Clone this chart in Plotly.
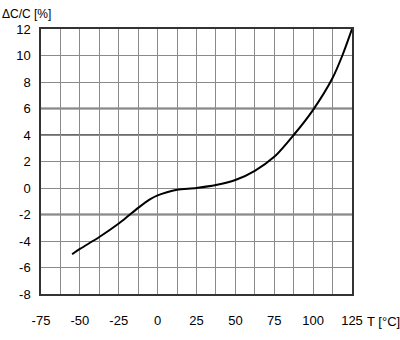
import plotly.graph_objects as go

# Temperature (°C) and capacitance change (%)
temperature = [-55, -50, -37.5, -25, -18.8, -12.5, -5, 0, 6, 12.5, 25, 37.5, 50,
               62.5, 75, 87.5, 100, 112.5, 118.8, 125]
delta_c = [-5.0, -4.6, -3.7, -2.68, -2.1, -1.5, -0.86, -0.56, -0.32, -0.14, 0.0, 0.22, 0.6,
           1.3, 2.35, 4.0, 5.9, 8.3, 10.0, 12.0]

x_ticks = [-75, -50, -25, 0, 25, 50, 75, 100, 125]
y_ticks = [-8, -6, -4, -2, 0, 2, 4, 6, 8, 10, 12]
emphasized_grid = [6, 4, -2]

FONT = "Liberation Sans, Arial, sans-serif"

fig = go.Figure()
fig.add_trace(go.Scatter(x=temperature, y=delta_c, mode="lines",
                         line=dict(color="black", width=2, shape="spline", smoothing=0.8),
                         hoverinfo="skip", showlegend=False))

shapes = [dict(type="line", xref="paper", x0=0, x1=1, yref="y", y0=v, y1=v,
               line=dict(color="#6a6a6a", width=2), layer="below") for v in emphasized_grid]

fig.update_layout(
    width=400, height=340,
    margin=dict(l=41, r=48, t=29, b=41),
    paper_bgcolor="white", plot_bgcolor="white",
    font=dict(family=FONT, size=13, color="black"),
    shapes=shapes,
    xaxis=dict(range=[-75, 125], tickvals=x_ticks, ticktext=[str(t) for t in x_ticks],
               showgrid=True, gridcolor="#8a8a8a", gridwidth=1,
               minor=dict(dtick=12.5, tick0=-75, showgrid=True, gridcolor="#8a8a8a", gridwidth=1),
               zeroline=False, showline=True, linecolor="#333", linewidth=1.5, mirror=True,
               ticks="", ticklabelstandoff=14, fixedrange=True),
    yaxis=dict(range=[-8, 12], tickvals=y_ticks, ticktext=[str(t) for t in y_ticks],
               showgrid=True, gridcolor="#8a8a8a", gridwidth=1,
               zeroline=False, showline=True, linecolor="#333", linewidth=1.5, mirror=True,
               ticks="", ticklabelstandoff=6, fixedrange=True),
    annotations=[
        dict(text="ΔC/C [%]", xref="paper", yref="paper", x=-41/311, y=1 + 15/270,
             xanchor="left", yanchor="middle", showarrow=False, font=dict(size=12)),
        dict(text="T [°C]", xref="paper", yref="paper", x=1 + 13/311, y=-28/270,
             xanchor="left", yanchor="middle", showarrow=False, font=dict(size=13)),
    ],
)

fig.write_html("out.html")
